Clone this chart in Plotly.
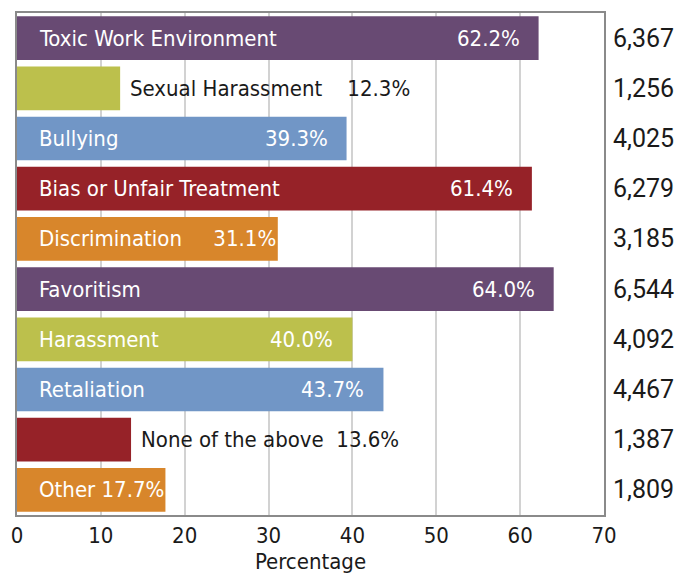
import plotly.graph_objects as go

categories = ["Toxic Work Environment", "Sexual Harassment", "Bullying", "Bias or Unfair Treatment",
              "Discrimination", "Favoritism", "Harassment", "Retaliation", "None of the above", "Other"]
percentages = [62.2, 12.3, 39.3, 61.4, 31.1, 64.0, 40.0, 43.7, 13.6, 17.7]
counts = ["6,367", "1,256", "4,025", "6,279", "3,185", "6,544", "4,092", "4,467", "1,387", "1,809"]
colors = ["#684a73", "#bcc04c", "#7196c6", "#962228", "#d8862b",
          "#684a73", "#bcc04c", "#7196c6", "#962228", "#d8862b"]
# label placement: split = name left + pct at bar end, joined = one label inside, outside = after bar
label_mode = ["split", "outside", "split", "split", "joined", "split", "split", "split", "outside", "joined"]
label_gap = [0, 4, 0, 0, 5, 0, 0, 0, 2, 1]
x_ticks = [0, 10, 20, 30, 40, 50, 60, 70]

FONT = "DejaVu Sans Condensed, Roboto, sans-serif"
LS = 22

fig = go.Figure()
fig.add_trace(go.Bar(
    y=categories, x=percentages, orientation="h",
    marker=dict(color=colors, line=dict(width=0)),
    hoverinfo="skip",
))

annotations = []
for cat, pct, cnt, mode, gap in zip(categories, percentages, counts, label_mode, label_gap):
    sp = "&nbsp;" * gap
    if mode == "outside":
        annotations.append(dict(x=pct, y=cat, xref="x", yref="y", xanchor="left",
                                text=f"{cat}{sp}{pct:.1f}%", showarrow=False,
                                xshift=8, font=dict(family=FONT, size=LS, color="#1a1a1a")))
    elif mode == "joined":
        annotations.append(dict(x=0, y=cat, xref="x", yref="y", xanchor="left",
                                text=f"{cat}{sp}{pct:.1f}%", showarrow=False, xshift=20,
                                font=dict(family=FONT, size=LS, color="white")))
    else:
        annotations.append(dict(x=0, y=cat, xref="x", yref="y", xanchor="left",
                                text=cat, showarrow=False, xshift=20,
                                font=dict(family=FONT, size=LS, color="white")))
        annotations.append(dict(x=pct, y=cat, xref="x", yref="y", xanchor="right",
                                text=f"{pct:.1f}%", showarrow=False, xshift=-17,
                                font=dict(family=FONT, size=LS, color="white")))
    annotations.append(dict(x=1, y=cat, xref="paper", yref="y", xanchor="left",
                            text=cnt, showarrow=False, xshift=7,
                            font=dict(family="Roboto, sans-serif", size=25, color="#1a1a1a")))

fig.update_layout(
    width=685, height=568,
    margin=dict(l=9, r=89, t=3, b=61),
    paper_bgcolor="white", plot_bgcolor="white",
    bargap=0.13,
    showlegend=False,
    annotations=annotations,
    xaxis=dict(range=[0, 70], tickvals=x_ticks, ticks="", showgrid=True,
               gridcolor="#d2d2d2", gridwidth=1.5, zeroline=False,
               showline=True, linecolor="#8a8a8a", linewidth=2, mirror=True,
               tickfont=dict(family=FONT, size=22, color="#1a1a1a"),
               title=dict(text="Percentage", font=dict(family=FONT, size=22, color="#1a1a1a"), standoff=6)),
    yaxis=dict(autorange="reversed", showticklabels=False, ticks="", showgrid=False,
               showline=True, linecolor="#8a8a8a", linewidth=2, mirror=True),
)

fig.write_html("out.html")
